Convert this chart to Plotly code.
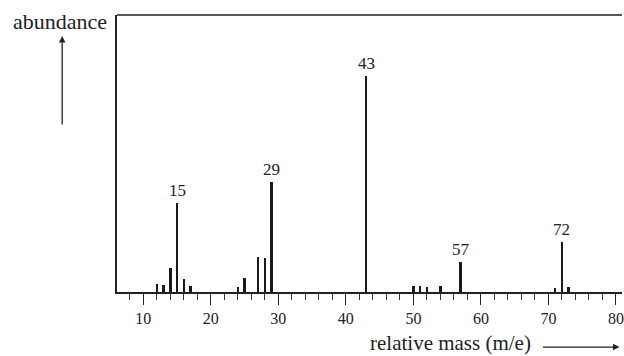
import plotly.graph_objects as go

mz = [12, 13, 14, 15, 16, 17, 24, 25, 27, 28, 29, 43, 50, 51, 52, 54, 57, 71, 72, 73]
abundance = [3.7, 3.2, 11, 41, 5.8, 2.8, 2.1, 6.5, 16, 15.7, 51, 100, 2.8, 2.6, 2.5, 2.8, 14, 2.0, 23, 2.3]
labelled = [15, 29, 43, 57, 72]
tick_vals = [10, 20, 30, 40, 50, 60, 70, 80]

serif = "Liberation Serif, DejaVu Serif, serif"

fig = go.Figure()
fig.add_trace(go.Bar(x=mz, y=abundance, width=0.36,
                     marker=dict(color="#1a1a1a", line=dict(width=0)),
                     hoverinfo="x+y"))

for m, a in zip(mz, abundance):
    if m in labelled:
        fig.add_annotation(x=m, y=a, text=str(m), showarrow=False,
                           yanchor="bottom", yshift=1,
                           font=dict(family=serif, size=17, color="#222"))

fig.add_annotation(xref="paper", yref="paper", x=-0.112, y=0.975,
                   xanchor="center", yanchor="middle",
                   text="abundance", showarrow=False,
                   font=dict(family=serif, size=22, color="#222"))
fig.add_annotation(xref="paper", yref="paper", x=0.661, y=-0.184,
                   xanchor="center", yanchor="middle",
                   text="relative mass (m/e)", showarrow=False,
                   font=dict(family=serif, size=21, color="#222"))
# vertical arrow
fig.add_annotation(xref="paper", yref="paper", x=-0.1085, y=0.924,
                   ax=0, ay=90, text="", showarrow=True,
                   arrowhead=2, arrowsize=1, arrowwidth=1.3, arrowcolor="#222")
# horizontal arrow
fig.add_annotation(xref="paper", yref="paper", x=0.995, y=-0.199,
                   ax=-78, ay=0, text="", showarrow=True,
                   arrowhead=2, arrowsize=1, arrowwidth=1.3, arrowcolor="#222")

fig.add_shape(type="line", xref="paper", yref="paper", x0=0, x1=1, y0=1, y1=1,
              line=dict(color="#222", width=1.5))

fig.update_layout(
    width=624, height=356,
    margin=dict(l=117, r=0, t=15, b=64),
    paper_bgcolor="white", plot_bgcolor="white",
    showlegend=False, bargap=0,
    xaxis=dict(range=[6.1, 80.9], tickvals=tick_vals,
               ticktext=[str(v) for v in tick_vals],
               ticks="outside", ticklen=11, tickwidth=1.3, tickcolor="#222",
               ticklabeloverflow="allow",
               minor=dict(dtick=2, tick0=0, ticks="outside", ticklen=6,
                          tickwidth=1, tickcolor="#333", showgrid=False),
               showline=True, linecolor="#222", linewidth=1.5,
               showgrid=False, zeroline=False,
               tickfont=dict(family=serif, size=16, color="#222")),
    yaxis=dict(range=[0, 128], showticklabels=False, ticks="",
               showline=True, linecolor="#222", linewidth=1.5,
               showgrid=False, zeroline=False),
)

fig.write_html("out.html", config={"displayModeBar": False},
               post_script="document.body.style.margin='0';")
